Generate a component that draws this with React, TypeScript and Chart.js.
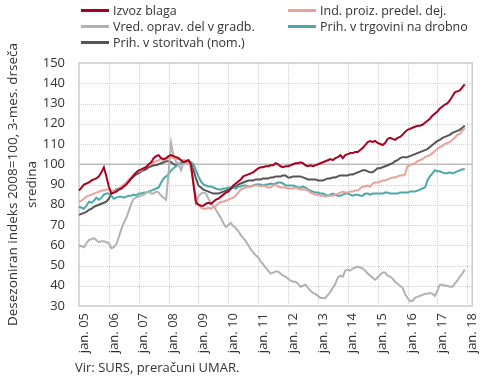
import { useEffect, useRef } from 'react';
import { Chart, registerables } from 'chart.js';
Chart.register(...registerables);

const FONT = '"Open Sans", sans-serif';

const years = ['05', '06', '07', '08', '09', '10', '11', '12', '13', '14', '15', '16', '17', '18'];
const monthNames = ['jan.', 'feb.', 'mar.', 'apr.', 'maj', 'jun.', 'jul.', 'avg.', 'sep.', 'okt.', 'nov.', 'dec.'];
const categories: string[] = [];
years.forEach((y) => {
  const n = y === '18' ? 3 : 12;
  for (let i = 0; i < n; i++) categories.push(monthNames[i] + ' ' + y);
});

const yTicks = [30, 40, 50, 60, 70, 80, 90, 100, 110, 120, 130, 140, 150];

const izvozBlaga = [
  87, 88.5, 90, 90.5, 91, 92, 92.5, 93, 94, 96, 98.5, 94,
  89, 85.5, 86, 86.5, 87.5, 88, 89, 90, 91.5, 93, 94.5, 96,
  97, 97.5, 98, 98.5, 100, 101, 103, 104, 104.5, 103, 102.5, 103,
  104, 104.5, 104, 103.5, 103, 102, 101, 101.5, 102, 100, 90, 81,
  80, 79.5, 79.5, 80.5, 81, 80.5, 81.5, 82.5, 83, 84, 85, 86,
  86.5, 88, 89.5, 90.5, 91.5, 92.5, 94, 94.5, 95, 95.5, 96, 97,
  98, 98.5, 98.5, 99, 99, 99.5, 99.5, 100.5, 100, 99, 98.5, 99,
  99, 99.5, 100, 100.5, 100.5, 101, 100.5, 99.5, 99, 99.5, 99, 99.5,
  100, 100.5, 101, 101.5, 102, 102.5, 102, 103, 103.5, 104.5, 103, 104.5,
  105, 105.5, 105.5, 106, 106, 107, 108, 109.5, 111, 111.5, 111, 111.5,
  110.5, 110, 109.5, 110.5, 112.5, 113, 112.5, 112, 113, 113.5, 114.5, 116,
  117, 117.5, 118, 118.5, 119, 119, 119.5, 120.5, 121.5, 122.5, 124, 125,
  126, 127.5, 128.5, 129.5, 130, 131.5, 133.5, 135.5, 136, 136.5, 138, 139.5,
];

const indProizvodnje = [
  81.5, 82, 83, 84, 84.5, 85, 85.5, 86, 86.5, 87, 87, 87.5,
  87.5, 87, 86.5, 87, 88, 89, 90, 91, 92.5, 93.5, 95, 96,
  96.5, 97, 98, 99, 99.5, 100, 101, 101.5, 102, 102.5, 102, 102.5,
  103, 103.5, 103, 102.5, 102.5, 102, 102, 102, 101.5, 98, 90, 84,
  80, 78.5, 78, 78, 78.5, 78, 79, 79.5, 80.5, 81.5, 81.5, 82,
  82.5, 83, 83.5, 84.5, 86, 87.5, 88, 88.5, 89, 89, 89.5, 89.5,
  89.5, 89, 89.5, 89, 88.5, 88.5, 89.5, 90, 89, 88.5, 88.5, 88.5,
  88, 88, 88, 88.5, 88, 87.5, 87.5, 87.5, 87, 86, 85.5, 85,
  85, 84.5, 84.5, 84, 84.5, 84.5, 84.5, 85, 85.5, 86, 86.5, 86,
  86, 86.5, 86.5, 87, 87, 88, 89, 89, 89.5, 89, 90.5, 91,
  91, 91.5, 92, 92, 92.5, 93, 93.5, 93.5, 94, 94.5, 94.5, 95,
  99, 99.5, 100, 100.5, 101.5, 102, 102.5, 103.5, 104, 104.5, 105.5, 106.5,
  107.5, 108.5, 109, 110, 110.5, 111, 112, 113, 114.5, 115, 116.5, 118,
];

const gradbenistvo = [
  60, 59.5, 59, 61, 62.5, 63, 63.5, 62.5, 61.5, 62, 62, 61.5,
  61, 58.5, 59, 60.5, 64, 68, 71, 73.5, 77, 80.5, 83, 83.5,
  84, 84.5, 85, 86, 86.5, 85.5, 85.5, 86.5, 86, 84.5, 83.5, 82.5,
  96, 110.5, 104, 101, 100.5, 97, 101, 100.5, 100, 100, 91, 81,
  84, 85.5, 86, 85.5, 83, 81, 79.5, 77.5, 75.5, 73.5, 71, 69,
  70, 71, 69.5, 68.5, 67, 65, 63.5, 62, 60, 58, 56.5, 55,
  54, 52, 50.5, 49, 47.5, 46, 46.5, 47, 47, 46, 45, 44.5,
  43.5, 42.5, 42, 42, 41, 39.5, 40, 40.5, 39, 37.5, 36.5, 36,
  35, 34, 34, 34, 35.5, 37, 39, 41, 44, 45, 44.5, 47.5,
  48, 47.5, 48.5, 49, 49.5, 49, 48.5, 47.5, 46, 45, 44, 43,
  44, 45.5, 46.5, 46.5, 45, 44.5, 43.5, 42, 41, 40, 39, 36,
  34, 32.5, 32.5, 34, 34.5, 35, 35.5, 36, 36, 36.5, 36, 35,
  37.5, 40.5, 40.5, 40, 40, 39.5, 39.5, 41, 42.5, 44.5, 46, 48,
];

const trgovina = [
  79, 78.5, 78, 79.5, 81.5, 81, 82, 83.5, 82.5, 83.5, 85, 85.5,
  85.5, 84.5, 83, 83.5, 84, 84, 83.5, 84, 84.5, 84.5, 85, 84.5,
  85.5, 85.5, 86, 86, 86.5, 87, 87.5, 88, 88.5, 91, 93, 94,
  95, 97, 98, 99, 100, 100.5, 101, 101.5, 101.5, 101, 100, 97,
  94, 91.5, 90, 89.5, 89, 89, 88.5, 88, 87.5, 87.5, 88, 88,
  88.5, 88.5, 88.5, 88, 89, 89, 89.5, 89.5, 89, 89, 89.5, 90,
  90, 90, 89.5, 90, 90, 90.5, 90, 90.5, 91, 91, 90.5, 89.5,
  89.5, 89.5, 89.5, 89, 88.5, 88.5, 89, 88.5, 87.5, 87, 86.5, 86,
  86, 85.5, 85.5, 85, 84.5, 85, 85.5, 85, 84.5, 84.5, 85, 85.5,
  85.5, 85, 84.5, 85, 85, 84.5, 84.5, 85.5, 85.5, 85, 85.5, 85.5,
  85.5, 85.5, 85.5, 86, 86, 85.5, 85.5, 85.5, 85.5, 86, 86, 86,
  86, 86.5, 86.5, 86.5, 87, 87.5, 88, 88.5, 92, 94, 95.5, 97,
  96.5, 96.5, 96, 95.5, 95.5, 96, 95.5, 96, 96.5, 97, 97.5, 97.5,
];

const storitve = [
  75, 75.5, 76, 76.5, 77.5, 78, 79, 79.5, 80, 80.5, 81, 81.5,
  83, 85.5, 86.5, 87.5, 88, 88.5, 89.5, 90.5, 91.5, 93, 94, 95,
  95.5, 96.5, 97, 97.5, 98.5, 99, 99.5, 99.5, 100, 100.5, 101, 101.5,
  101.5, 101, 100, 99.5, 100, 100.5, 101, 101.5, 102, 100.5, 97, 93,
  89.5, 88.5, 87.5, 87, 86.5, 86, 85.5, 85.5, 85.5, 86, 86.5, 87,
  87.5, 88, 88.5, 89, 90, 90.5, 91, 91.5, 92, 92, 92, 92.5,
  92.5, 92.5, 93, 93, 93, 93.5, 93.5, 94, 94, 94, 94.5, 94.5,
  93.5, 93.5, 94, 94, 94, 94, 93.5, 93, 92.5, 92.5, 92.5, 92.5,
  92, 92, 92, 92.5, 93, 93, 93.5, 93.5, 94, 94.5, 94.5, 94.5,
  94.5, 95, 95, 95.5, 96, 96.5, 97, 97, 96.5, 96, 96, 97,
  98, 98, 98.5, 99, 99.5, 100, 100.5, 101.5, 102, 103, 103.5, 103.5,
  103.5, 104, 104.5, 105, 105.5, 106, 106.5, 107, 107.5, 108.5, 109.5, 110.5,
  111.5, 112, 113, 113.5, 114, 114.5, 115.5, 116, 116.5, 117, 118, 119,
];

const seriesNames = [
  'Izvoz blaga',
  'Ind. proiz. predel. dej.',
  'Vred. oprav. del v gradb.',
  'Prih. v trgovini na drobno',
  'Prih. v storitvah (nom.)',
];
const seriesColors = ['#ab001d', '#e8a29c', '#b2b2b2', '#4aa9a7', '#555555'];
const seriesData = [izvozBlaga, indProizvodnje, gradbenistvo, trgovina, storitve];

const yTitle = ['Desezoniran indeks 2008=100, 3-mes. drseča', 'sredina'];
const sourceText = 'Vir: SURS, preračuni UMAR.';

const legendPos = [
  { left: 81, top: 10 },
  { left: 288, top: 10 },
  { left: 81, top: 26 },
  { left: 288, top: 26 },
  { left: 81, top: 42 },
];

const framePlugin = {
  id: 'frame',
  beforeDatasetsDraw(chart: any) {
    const { ctx, chartArea } = chart;
    const xs = chart.scales.x;
    const ys = chart.scales.y;
    ctx.save();
    ctx.strokeStyle = '#cfcfcf';
    ctx.lineWidth = 1;
    ctx.setLineDash([1, 1]);
    yTicks.forEach((v) => {
      if (v === 30 || v === 150 || v === 100) return;
      const py = Math.round(ys.getPixelForValue(v)) + 0.5;
      ctx.beginPath();
      ctx.moveTo(chartArea.left, py);
      ctx.lineTo(chartArea.right, py);
      ctx.stroke();
    });
    categories.forEach((c, i) => {
      if (i % 12 !== 0 || i === 0) return;
      const px = Math.round(xs.getPixelForValue(i)) + 0.5;
      ctx.beginPath();
      ctx.moveTo(px, chartArea.top);
      ctx.lineTo(px, chartArea.bottom);
      ctx.stroke();
    });
    ctx.setLineDash([]);
    ctx.strokeStyle = '#bdbdbd';
    ctx.lineWidth = 1.5;
    const p100 = ys.getPixelForValue(100);
    ctx.beginPath();
    ctx.moveTo(chartArea.left, p100);
    ctx.lineTo(chartArea.right, p100);
    ctx.stroke();
    ctx.strokeStyle = '#cccccc';
    ctx.lineWidth = 1.5;
    ctx.strokeRect(chartArea.left, chartArea.top, chartArea.right - chartArea.left, chartArea.bottom - chartArea.top);
    ctx.restore();
  },
  afterDraw(chart: any) {
    const { ctx } = chart;
    ctx.save();
    ctx.fillStyle = '#333';
    ctx.font = '13px ' + FONT;
    ctx.textBaseline = 'alphabetic';
    ctx.textAlign = 'left';
    ctx.fillText(sourceText, 75, 372);
    ctx.restore();
  },
};

export default function App() {
  const ref = useRef<HTMLCanvasElement>(null);
  useEffect(() => {
    if (!ref.current) return;
    Chart.defaults.font.family = FONT;
    const chart = new Chart(ref.current, {
      type: 'line',
      data: {
        labels: categories,
        datasets: seriesData.map((d, i) => ({
          label: seriesNames[i],
          data: d,
          borderColor: seriesColors[i],
          backgroundColor: seriesColors[i],
          borderWidth: 2,
          pointRadius: 0,
          tension: 0,
          fill: false,
        })),
      },
      options: {
        animation: false,
        responsive: false,
        layout: { padding: { top: 63, right: 12, left: 0, bottom: 0 } },
        plugins: {
          legend: { display: false },
          tooltip: { enabled: false },
        },
        scales: {
          x: {
            type: 'category',
            offset: false,
            grid: { display: false, drawTicks: false },
            border: { display: false },
            ticks: {
              autoSkip: false,
              minRotation: 90,
              maxRotation: 90,
              padding: 7,
              labelOffset: 5,
              color: '#333',
              font: { size: 13, family: FONT },
              callback: (_v: any, i: number) => (i % 12 === 0 ? categories[i] : null),
            },
            afterFit: (s: any) => {
              s.height = 75;
            },
          },
          y: {
            min: 30,
            max: 150,
            grid: { display: false, drawTicks: false },
            border: { display: false },
            afterBuildTicks: (s: any) => {
              s.ticks = yTicks.map((v) => ({ value: v }));
            },
            ticks: {
              padding: 14,
              color: '#333',
              font: { size: 13, family: FONT },
            },
            title: {
              display: true,
              text: yTitle,
              color: '#333',
              font: { size: 13.5, family: FONT, lineHeight: '19px' },
              padding: { top: 4, bottom: 0 },
            },
            afterFit: (s: any) => {
              s.width = 79;
            },
          },
        },
      },
      plugins: [framePlugin],
    });
    return () => chart.destroy();
  }, []);

  return (
    <div style={{ position: 'fixed', left: 0, top: 0, width: 490, height: 381, background: '#fff' }}>
      <canvas ref={ref} width={490} height={381} style={{ position: 'absolute', left: 0, top: 0 }} />
      {seriesNames.map((n, i) => (
        <div key={n} style={{ position: 'absolute', left: legendPos[i].left, top: legendPos[i].top - 9, height: 18, display: 'flex', alignItems: 'center', whiteSpace: 'nowrap', fontFamily: FONT, fontSize: 12.5, color: '#333' }}>
          <span style={{ display: 'inline-block', width: 28, height: 3, background: seriesColors[i], marginRight: 4 }} />
          <span>{n}</span>
        </div>
      ))}
    </div>
  );
}
